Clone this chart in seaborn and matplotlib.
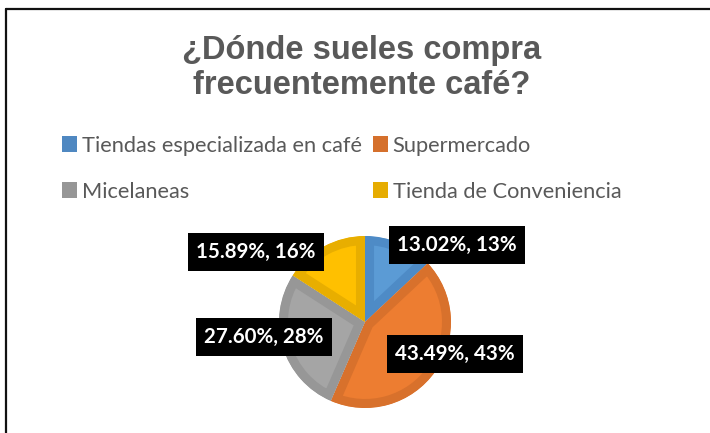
import matplotlib
matplotlib.use("Agg")
import matplotlib.pyplot as plt
import seaborn as sns
from matplotlib.lines import Line2D
from matplotlib.patches import Patch

sns.set_theme(style="white")
plt.rcParams['font.family'] = ['Lato', 'DejaVu Sans']

# ---- data ----
categories = ["Tiendas especializada en café", "Supermercado",
              "Micelaneas", "Tienda de Conveniencia"]
percent_values = [13.02, 43.49, 27.60, 15.89]
rounded_values = [13, 43, 28, 16]
title_text = "¿Dónde sueles compra\nfrecuentemente café?"

# ---- style ----
fill_colors = ["#5B9BD5", "#ED7D31", "#A5A5A5", "#FFC000"]
edge_colors = ["#4E8BC6", "#D8712C", "#979797", "#E8AE00"]
legend_colors = ["#4F88C1", "#D5702C", "#969696", "#E6AC00"]
text_gray = "#595959"

W, H = 710, 433
fig = plt.figure(figsize=(W / 100, H / 100), dpi=100)
ax = fig.add_axes([0, 0, 1, 1])

# outer frame (top and left visible)
ax.add_line(Line2D([6, W], [H - 9, H - 9], color="#111111", lw=1.6))
ax.add_line(Line2D([6, 6], [0, H - 9], color="#111111", lw=1.6))

# pie
cx, cy, r = 365, H - 322, 86
wedges, _ = ax.pie(percent_values, colors=fill_colors, startangle=90,
                   counterclock=False, center=(cx, cy), radius=r,
                   frame=True)
ax.set_xlim(0, W)
ax.set_ylim(0, H)
ax.set_aspect('equal')
ax.axis('off')
for w, ec in zip(wedges, edge_colors):
    w.set_edgecolor(ec)
    w.set_linewidth(13)
    w.set_clip_on(True)
    w.set_clip_path(w)

# title
ax.text(362, H - 68, title_text, ha='center', va='center', fontsize=23.5,
        fontweight='bold', color=text_gray, linespacing=1.14,
        family=['Liberation Sans', 'DejaVu Sans'])

# data labels (layout positions in pixels)
label_pos = [(457, 245), (455, 354), (264, 337), (256, 252)]
for (px, py), p, rv in zip(label_pos, percent_values, rounded_values):
    ax.text(px, H - py, f"{p:.2f}%, {rv}%", ha='center', va='center',
            fontsize=14.8, fontweight='bold', color='white',
            bbox=dict(boxstyle='square,pad=0.42', fc='black', ec='none'))

# legend (row-wise order for 2 columns)
order = [0, 2, 1, 3]
handles = [Patch(facecolor=legend_colors[i], edgecolor='none') for i in order]
labels = [categories[i] for i in order]
leg = fig.legend(handles, labels, loc='upper left',
                 bbox_to_anchor=(42 / W, 1 - 116 / H), ncol=2, frameon=False,
                 fontsize=15.7, labelcolor=text_gray, handlelength=0.72,
                 handleheight=0.72, handletextpad=0.2, columnspacing=0.5,
                 labelspacing=1.2)

fig.savefig("out.png", dpi=100)
